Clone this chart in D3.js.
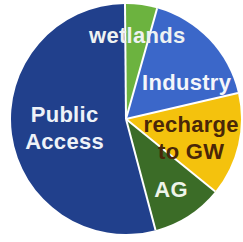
<!DOCTYPE html>
<html>
<head>
<meta charset="utf-8">
<script src="https://cdn.jsdelivr.net/npm/d3@7"></script>
<style>
  html, body { margin: 0; padding: 0; background: #fff; }
  svg { display: block; }
</style>
</head>
<body>
<svg id="chart"></svg>
<script>
// slice order is clockwise from 12 o'clock
const categories = ['wetlands', 'Industry', 'recharge to GW', 'AG', 'Public Access'];
const shares = [4.5, 17, 14.5, 10, 54];
const labelLines = [['wetlands'], ['Industry'], ['recharge', 'to GW'], ['AG'], ['Public', 'Access']];

const colors = ['#6cb33f', '#3b67c9', '#f4c20d', '#3b6c27', '#21408c'];
const textColors = ['#eef2f2', '#f4f6fa', '#4a2708', '#eef4ea', '#eef2f8'];
// label placement: radius along slice centroid + small nudge
const labelR = [85, 70, 70, 83, 63];
const nudge = [[0, 0], [10, 11], [-3, 3], [0, 0], [1, 0]];

const W = 243, H = 242;
const cx = 126, cy = 119, R = 115;

const svg = d3.select('#chart')
  .attr('width', W)
  .attr('height', H);

const g = svg.append('g')
  .attr('transform', `translate(${cx},${cy})`);

const start = -0.5 * Math.PI / 180;
const pie = d3.pie()
  .sort(null)
  .value(d => d)
  .startAngle(start)
  .endAngle(start + 2 * Math.PI);

const arcs = pie(shares);

const arc = d3.arc()
  .innerRadius(0)
  .outerRadius(R);

g.selectAll('path.slice')
  .data(arcs)
  .enter().append('path')
  .attr('class', 'slice')
  .attr('d', arc)
  .attr('fill', (d, i) => colors[i]);

// white separators between slices
g.selectAll('line.sep')
  .data(arcs)
  .enter().append('line')
  .attr('class', 'sep')
  .attr('x1', 0).attr('y1', 0)
  .attr('x2', d => R * Math.sin(d.startAngle))
  .attr('y2', d => -R * Math.cos(d.startAngle))
  .attr('stroke', '#fff')
  .attr('stroke-width', 2);

const lineH = 27;
arcs.forEach((d, i) => {
  const la = d3.arc().innerRadius(labelR[i]).outerRadius(labelR[i]);
  const [x, y] = la.centroid(d);
  const lx = x + nudge[i][0], ly = y + nudge[i][1];
  const lines = labelLines[i];
  const t = g.append('text')
    .attr('text-anchor', 'middle')
    .attr('font-family', 'Liberation Sans, Arial, sans-serif')
    .attr('font-weight', 'bold')
    .attr('font-size', 22)
    .attr('letter-spacing', 0.3)
    .attr('fill', textColors[i]);
  lines.forEach((s, k) => {
    t.append('tspan')
      .attr('x', lx)
      .attr('y', ly + 8 - (lines.length - 1) * lineH / 2 + k * lineH)
      .text(s);
  });
});
</script>
</body>
</html>
